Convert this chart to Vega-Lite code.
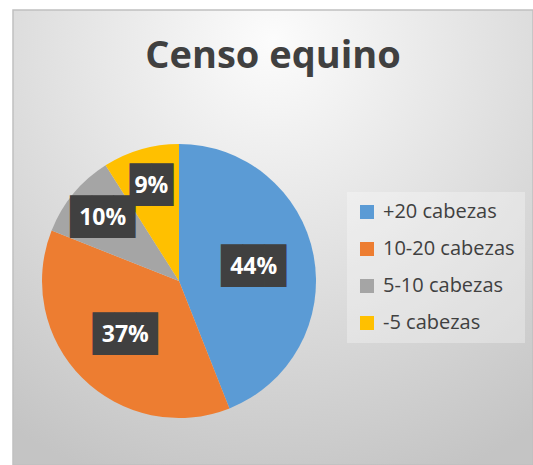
{
  "$schema": "https://vega.github.io/schema/vega-lite/v6.json",
  "width": 520,
  "height": 455,
  "autosize": {"type": "none"},
  "padding": {"left": 13, "top": 10, "right": 0, "bottom": 0},
  "background": "#ffffff",
  "view": {
    "fill": {"gradient": "radial", "x1": 0.5, "y1": 0.12, "r1": 0, "x2": 0.5, "y2": 0.12, "r2": 0.9,
      "stops": [{"offset": 0, "color": "#fcfcfc"}, {"offset": 1, "color": "#c4c4c4"}]},
    "stroke": "#c0c0c0",
    "strokeWidth": 1.5
  },
  "title": {
    "text": "Censo equino",
    "font": "Open Sans",
    "fontSize": 38,
    "fontWeight": "bold",
    "color": "#404040",
    "anchor": "middle",
    "frame": "group",
    "orient": "top",
    "offset": -96,
    "baseline": "alphabetic"
  },
  "data": {
    "values": [
      {"categoria": "\u00a0+20 cabezas", "valor": 0.44, "orden": 1},
      {"categoria": "10-20 cabezas", "valor": 0.37, "orden": 2},
      {"categoria": "5-10 cabezas", "valor": 0.10, "orden": 3},
      {"categoria": "\u00a0-5 cabezas", "valor": 0.09, "orden": 4}
    ]
  },
  "transform": [
    {"stack": "valor", "sort": [{"field": "orden", "order": "ascending"}], "as": ["v0", "v1"]},
    {"calculate": "(datum.v0 + datum.v1) / 2", "as": "medio"},
    {"calculate": "datum.valor < 0.095 ? '\u2588\u2588' : '\u2588\u2588\u2588'", "as": "caja"}
  ],
  "layer": [
    {
      "mark": {"type": "arc", "outerRadius": 137, "x": 166, "y": 271, "stroke": null},
      "encoding": {
        "theta": {"field": "v0", "type": "quantitative", "scale": {"domain": [0, 1]}},
        "theta2": {"field": "v1"},
        "color": {
          "field": "categoria",
          "type": "nominal",
          "scale": {
            "domain": ["\u00a0+20 cabezas", "10-20 cabezas", "5-10 cabezas", "\u00a0-5 cabezas"],
            "range": ["#5B9BD5", "#ED7D31", "#A5A5A5", "#FFC000"]
          },
          "legend": {
            "title": null,
            "orient": "none",
            "legendX": 334,
            "legendY": 182,
            "symbolType": "square",
            "symbolSize": 196,
            "symbolStrokeWidth": 0,
            "labelFont": "Open Sans",
            "labelFontSize": 20,
            "labelColor": "#404040",
            "rowPadding": 17,
            "padding": 10,
            "fillColor": "rgba(255,255,255,0.3)",
            "labelOffset": 6,
            "labelLimit": 300
          }
        }
      }
    },
    {
      "transform": [{"filter": "datum.valor >= 0.2"}],
      "encoding": {
        "theta": {"field": "medio", "type": "quantitative", "scale": {"domain": [0, 1]}}
      },
      "layer": [
        {
          "mark": {"type": "text", "radius": 76, "x": 166, "y": 271, "font": "DejaVu Sans Mono", "fontSize": 36, "color": "#404040", "align": "center", "baseline": "middle"},
          "encoding": {"text": {"field": "caja", "type": "nominal"}}
        },
        {
          "mark": {"type": "text", "radius": 76, "x": 166, "y": 271, "font": "Open Sans", "fontSize": 23, "fontWeight": "bold", "color": "#ffffff", "align": "center", "baseline": "middle"},
          "encoding": {"text": {"field": "valor", "type": "quantitative", "format": ".0%"}}
        }
      ]
    },
    {
      "transform": [{"filter": "datum.valor < 0.2"}],
      "encoding": {
        "theta": {"field": "medio", "type": "quantitative", "scale": {"domain": [0, 1]}}
      },
      "layer": [
        {
          "mark": {"type": "text", "radius": 99, "x": 166, "y": 271, "font": "DejaVu Sans Mono", "fontSize": 36, "color": "#404040", "align": "center", "baseline": "middle"},
          "encoding": {"text": {"field": "caja", "type": "nominal"}}
        },
        {
          "mark": {"type": "text", "radius": 99, "x": 166, "y": 271, "font": "Open Sans", "fontSize": 23, "fontWeight": "bold", "color": "#ffffff", "align": "center", "baseline": "middle"},
          "encoding": {"text": {"field": "valor", "type": "quantitative", "format": ".0%"}}
        }
      ]
    }
  ]
}
